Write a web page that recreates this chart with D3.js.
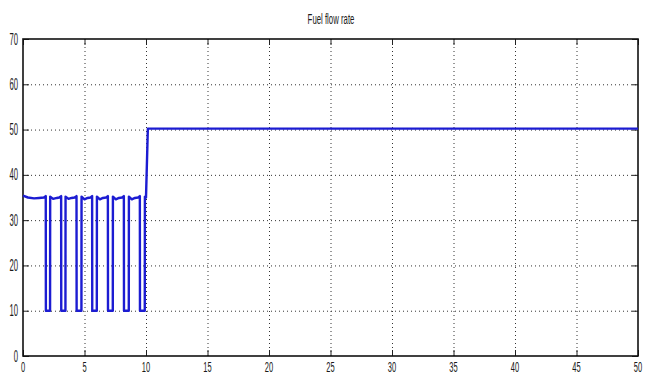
<!DOCTYPE html>
<html lang="en">
  <head>
    <meta charset="UTF-8" />
    <title>Fuel flow rate</title>
    <style>
      html,
      body {
        margin: 0;
        background: #ffffff;
      }
      svg {
        display: block;
      }
      .lbl {
        font-family: "Liberation Sans", Arial, sans-serif;
        fill: #1a1a1a;
      }
    </style>
    <script src="https://cdn.jsdelivr.net/npm/d3@7"></script>
  </head>
  <body>
    <div id="chart"></div>
    <script>
      // values
      const titleText = "Fuel flow rate";
      const xTicks = [0, 5, 10, 15, 20, 25, 30, 35, 40, 45, 50];
      const yTicks = [0, 10, 20, 30, 40, 50, 60, 70];

      const flowTime = [
        0, 0.4, 0.9, 1.3, 1.7, 1.85, 1.86, 2.2, 2.21, 2.45, 2.75, 2.95,
        3.1, 3.11, 3.45, 3.46, 3.7, 3.95, 4.2, 4.35, 4.36, 4.75, 4.76, 5.0,
        5.25, 5.5, 5.62, 5.63, 6.0, 6.01, 6.25, 6.5, 6.75, 6.9, 6.91, 7.3,
        7.31, 7.55, 7.8, 8.05, 8.2, 8.21, 8.6, 8.61, 8.85, 9.1, 9.35, 9.5,
        9.51, 9.9, 9.91, 10.0, 10.15, 50,
      ];
      const flowValue = [
        35.4, 35.0, 34.8, 34.9, 35.0, 35.3, 10, 10, 35.2, 34.7, 34.9, 35.0,
        35.3, 10, 10, 35.2, 34.7, 34.9, 35.0, 35.3, 10, 10, 35.2, 34.6,
        34.9, 35.0, 35.3, 10, 10, 35.2, 34.6, 34.9, 35.0, 35.3, 10, 10,
        35.2, 34.6, 34.9, 35.0, 35.3, 10, 10, 35.2, 34.6, 34.9, 35.0, 35.3,
        10, 10, 35.2, 35.0, 50.2, 50.2,
      ];

      const width = 654;
      const height = 378;
      const margin = { top: 39, right: 16, bottom: 22, left: 23 };
      const innerW = width - margin.left - margin.right;
      const innerH = height - margin.top - margin.bottom;

      const svg = d3
        .select("#chart")
        .append("svg")
        .attr("width", width)
        .attr("height", height);

      const g = svg
        .append("g")
        .attr("transform", `translate(${margin.left},${margin.top})`);

      const x = d3.scaleLinear().domain([0, 50]).range([0, innerW]);
      const y = d3.scaleLinear().domain([0, 70]).range([innerH, 0]);

      // dotted grid
      g.selectAll(".gx")
        .data(xTicks.slice(1, -1))
        .join("line")
        .attr("x1", (d) => x(d) + 0.5)
        .attr("x2", (d) => x(d) + 0.5)
        .attr("y1", 0)
        .attr("y2", innerH)
        .attr("stroke", "#333")
        .attr("stroke-width", 1)
        .attr("stroke-dasharray", "1,3");

      g.selectAll(".gy")
        .data(yTicks.slice(1, -1))
        .join("line")
        .attr("x1", 0)
        .attr("x2", innerW)
        .attr("y1", (d) => y(d) + 0.5)
        .attr("y2", (d) => y(d) + 0.5)
        .attr("stroke", "#333")
        .attr("stroke-width", 1)
        .attr("stroke-dasharray", "1,3");

      // axes with inward ticks
      const tickLen = 6;
      const xAxisB = g
        .append("g")
        .attr("transform", `translate(0,${innerH})`)
        .call(d3.axisTop(x).tickValues(xTicks).tickSize(tickLen).tickFormat(""));
      const xAxisT = g
        .append("g")
        .call(d3.axisBottom(x).tickValues(xTicks).tickSize(tickLen).tickFormat(""));
      const yAxisL = g
        .append("g")
        .call(d3.axisRight(y).tickValues(yTicks).tickSize(tickLen).tickFormat(""));
      const yAxisR = g
        .append("g")
        .attr("transform", `translate(${innerW},0)`)
        .call(d3.axisLeft(y).tickValues(yTicks).tickSize(tickLen).tickFormat(""));

      [xAxisB, xAxisT, yAxisL, yAxisR].forEach((a) => {
        a.select(".domain").remove();
        a.selectAll("line").attr("stroke", "#222");
      });

      // box
      g.append("rect")
        .attr("x", 0)
        .attr("y", 0)
        .attr("width", innerW)
        .attr("height", innerH)
        .attr("fill", "none")
        .attr("stroke", "#111")
        .attr("stroke-width", 1.6);

      // tick labels (narrow font)
      g.selectAll(".xl")
        .data(xTicks)
        .join("text")
        .attr("class", "lbl")
        .attr("font-size", 15)
        .attr("text-anchor", "middle")
        .attr("transform", (d) => `translate(${x(d)},${innerH + 16}) scale(0.5,1)`)
        .text((d) => d);

      g.selectAll(".yl")
        .data(yTicks)
        .join("text")
        .attr("class", "lbl")
        .attr("font-size", 16)
        .attr("text-anchor", "end")
        .attr("transform", (d) => `translate(-5,${y(d) + 5.5}) scale(0.48,1)`)
        .text((d) => d);

      // title
      svg
        .append("text")
        .attr("class", "lbl")
        .attr("font-size", 15)
        .attr("text-anchor", "middle")
        .attr("transform", `translate(331,24) scale(0.52,1)`)
        .text(titleText);

      // fuel flow line
      const pts = flowTime.map((t, i) => [t, flowValue[i]]);
      const line = d3
        .line()
        .x((d) => x(d[0]))
        .y((d) => y(d[1]));

      g.append("path")
        .datum(pts)
        .attr("d", line)
        .attr("fill", "none")
        .attr("stroke", "#1c1cd2")
        .attr("stroke-width", 2.4)
        .attr("stroke-linejoin", "round");
    </script>
  </body>
</html>
